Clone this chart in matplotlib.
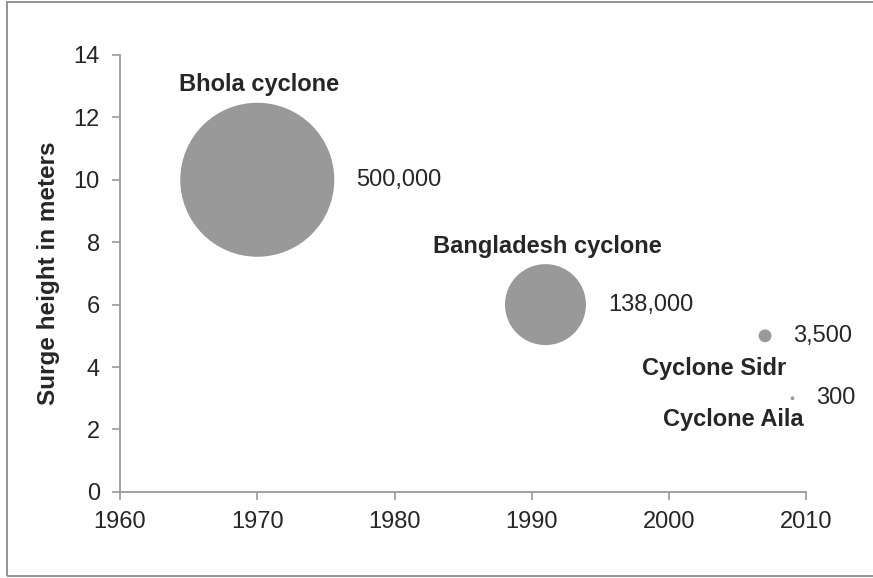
import numpy as np
import matplotlib
matplotlib.use("Agg")
import matplotlib.pyplot as plt
from matplotlib.patches import Rectangle

plt.rcParams['font.family'] = ['Liberation Sans', 'DejaVu Sans']

# Cyclone data
names = ["Bhola cyclone", "Bangladesh cyclone", "Cyclone Sidr", "Cyclone Aila"]
years = [1970, 1991, 2007, 2009]
surge_m = [10, 6, 5, 3]
deaths = [500000, 138000, 3500, 300]
death_labels = ["500,000", "138,000", "3,500", "300"]

x_ticks = [1960, 1970, 1980, 1990, 2000, 2010]
y_ticks = [0, 2, 4, 6, 8, 10, 12, 14]

DPI = 100
fig = plt.figure(figsize=(8.73, 5.78), dpi=DPI)
ax = fig.add_axes([0.1375, 0.149, 0.786, 0.756])

# outer frame of the chart area
fig.patches.append(Rectangle((7 / 873, 2 / 578), 1.2, 574 / 578, transform=fig.transFigure,
                             fill=False, edgecolor='#8a8a8a', linewidth=1.3))

# bubble area proportional to deaths
size_scale = 12300 / 500000
sizes = [d * size_scale for d in deaths]
ax.scatter(years, surge_m, s=sizes, color='#999999', edgecolor='none', zorder=3)

text_color = '#262626'
px = 72 / DPI  # pixels -> points

for name, x, y, s, lab in zip(names, years, surge_m, sizes, death_labels):
    r_pt = np.sqrt(s) / 2
    # value label to the right of the bubble
    ax.annotate(lab, (x, y), xytext=(r_pt + 22 * px, 0), textcoords='offset points',
                ha='left', va='center', fontsize=17, color=text_color)

# name labels
for i, name in enumerate(names):
    r_pt = np.sqrt(sizes[i]) / 2
    if i < 2:
        ax.annotate(name, (years[i], surge_m[i]), xytext=(2 * px, r_pt + 18 * px),
                    textcoords='offset points', ha='center', va='center',
                    fontsize=17, fontweight='bold', color=text_color)
    elif i == 2:
        ax.annotate(name, (years[i], surge_m[i]), xytext=(21 * px, -33 * px),
                    textcoords='offset points', ha='right', va='center',
                    fontsize=17, fontweight='bold', color=text_color)
    else:
        ax.annotate(name, (years[i], surge_m[i]), xytext=(11 * px, -21 * px),
                    textcoords='offset points', ha='right', va='center',
                    fontsize=17, fontweight='bold', color=text_color)

ax.set_xlim(1960, 2010)
ax.set_ylim(0, 14)
ax.set_xticks(x_ticks)
ax.set_yticks(y_ticks)
ax.tick_params(axis='both', direction='out', length=5.5, width=1.2, color='#999999',
               labelsize=17, labelcolor=text_color)
ax.tick_params(axis='y', pad=9)
ax.tick_params(axis='x', pad=8)

for side in ['top', 'right']:
    ax.spines[side].set_visible(False)
for side in ['left', 'bottom']:
    ax.spines[side].set_color('#999999')
    ax.spines[side].set_linewidth(1.3)

ax.set_ylabel("Surge height in meters", fontsize=17.5, fontweight='bold', color=text_color,
              labelpad=10)

fig.savefig("out.png", dpi=DPI)
